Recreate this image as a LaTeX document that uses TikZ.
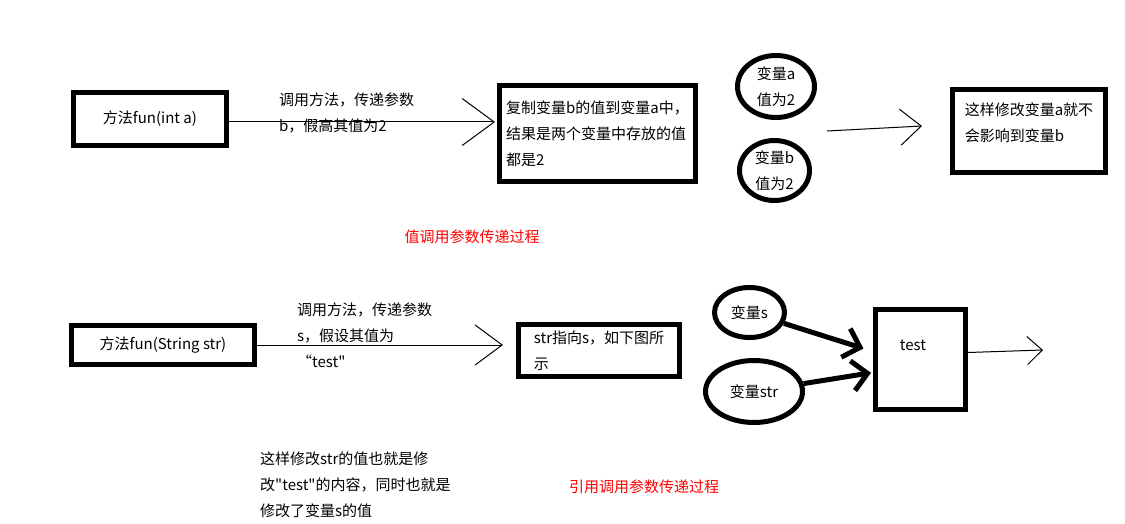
\documentclass[tikz,border=0pt]{standalone}
\usepackage{fontspec}
\setmainfont{Noto Sans CJK SC}[Ligatures=TeXOff]
\usetikzlibrary{arrows.meta,shapes.geometric}

\begin{document}
\begin{tikzpicture}[x=1pt,y=-1pt,
  every node/.style={font=\fontsize{15}{26}\selectfont,inner sep=0pt},
  box/.style={draw,line width=5pt,align=left},
  var/.style={draw,ellipse,line width=5pt,align=center},
  note/.style={anchor=west,align=left},
  title/.style={text=red},
  point/.style={line width=5pt,-{Straight Barb[length=15pt,width=30pt]}}]
\useasboundingbox (0,0) rectangle (1125,524);
\node [box,minimum width=153,minimum height=53] (fun1) at (150,119) {方法fun(int a)};
\node [box,minimum width=196,minimum height=96] (copy) at (597.5,133.5) {复制变量b的值到变量a中，\\结果是两个变量中存放的值\\都是2};
\node [var,minimum width=77,minimum height=62] (va) at (776,86.5) {变量a\\值为2};
\node [var,minimum width=70,minimum height=60] (vb) at (774.5,170.5) {变量b\\值为2};
\node [box,minimum width=153,minimum height=83,text depth=18pt] (keep) at (1029,131) {这样修改变量a就不\\会影响到变量b};
\node [note] (call1) at (279,112.5) {调用方法，传递参数\\b，假高其值为2};
\node [title] (byval) at (472,237) {值调用参数传递过程};
\coordinate (from1) at (827,131);
\coordinate (to1) at (922,126);
\draw [line width=1pt,-{Straight Barb[length=32pt,width=47pt]},shorten >=2pt] ([yshift=-3pt]fun1.east) -- ([yshift=-3pt]fun1.east -| copy.west);
\draw [line width=1pt,-{Straight Barb[length=21pt,width=36pt]}] (from1) -- (to1);
\node [box,minimum width=183,minimum height=39] (fun2) at (163,345) {方法fun(String str)};
\node [box,minimum width=161,minimum height=52] (ptr) at (599,350.5) {str指向s，如下图所\\示};
\node [var,minimum width=70,minimum height=50] (vs) at (749.5,312.5) {变量s};
\node [var,minimum width=97,minimum height=62] (vstr) at (754,391.5) {变量str};
\node [box,minimum width=90,minimum height=100] (strobj) at (920.5,359.5) {};
\node (val) at (913,345) {test};
\node [note] (call2) at (297,335) {调用方法，传递参数\\s，假设其值为\\“test"};
\node [note] (effect) at (260,485) {这样修改str的值也就是修\\改"test"的内容，同时也就是\\修改了变量s的值};
\node [title] (byref) at (644,487) {引用调用参数传递过程};
\coordinate (to2) at (1043,350);
\draw [line width=1pt,-{Straight Barb[length=27pt,width=40pt]},shorten >=13pt] (fun2.east) -- (fun2.east -| ptr.west);
\draw [point,shorten >=10pt] (vs) -- ([yshift=8pt]strobj.west);
\draw [point,shorten >=2pt] (vstr) -- ([yshift=-13pt]strobj.west);
\draw [line width=1pt,-{Straight Barb[length=15pt,width=28pt]}] ([yshift=7pt]strobj.east) -- (to2);
\end{tikzpicture}
\end{document}
